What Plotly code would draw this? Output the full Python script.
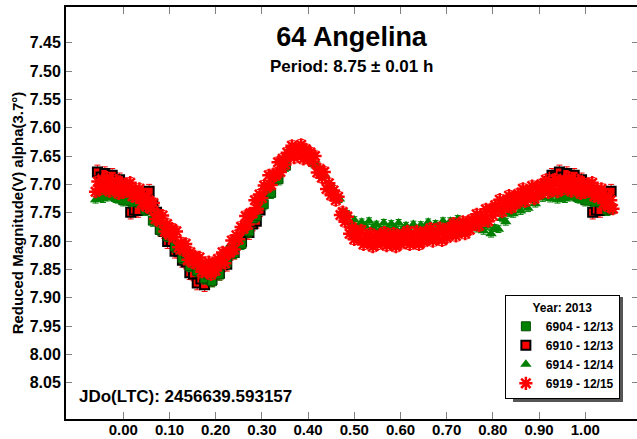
import plotly.graph_objects as go

# ---------------- data (phase, reduced magnitude) ----------------
ph_6919 = [0.000, 0.005, 0.010, 0.015, 0.020, 0.025, 0.030, 0.035, 0.040, 0.045,
           0.050, 0.055, 0.060, 0.065, 0.070, 0.075, 0.080, 0.085, 0.090, 0.095,
           0.100, 0.105, 0.110, 0.115, 0.120, 0.125, 0.130, 0.135, 0.140, 0.145,
           0.150, 0.155, 0.160, 0.165, 0.170, 0.175, 0.180, 0.185, 0.190, 0.195,
           0.200, 0.205, 0.210, 0.215, 0.220, 0.225, 0.230, 0.235, 0.240, 0.245,
           0.250, 0.255, 0.260, 0.265, 0.270, 0.275, 0.280, 0.285, 0.290, 0.295,
           0.300, 0.305, 0.310, 0.315, 0.320, 0.325, 0.330, 0.335, 0.340, 0.345,
           0.350, 0.355, 0.360, 0.365, 0.370, 0.375, 0.380, 0.385, 0.390, 0.395,
           0.400, 0.405, 0.410, 0.415, 0.420, 0.425, 0.430, 0.435, 0.440, 0.445,
           0.450, 0.455, 0.460, 0.465, 0.470, 0.475, 0.480, 0.485, 0.490, 0.495,
           0.500, 0.505, 0.510, 0.515, 0.520, 0.525, 0.530, 0.535, 0.540, 0.545,
           0.550, 0.555, 0.560, 0.565, 0.570, 0.575, 0.580, 0.585, 0.590, 0.595,
           0.600, 0.605, 0.610, 0.615, 0.620, 0.625, 0.630, 0.635, 0.640, 0.645,
           0.650, 0.655, 0.660, 0.665, 0.670, 0.675, 0.680, 0.685, 0.690, 0.695,
           0.700, 0.705, 0.710, 0.715, 0.720, 0.725, 0.730, 0.735, 0.740, 0.745,
           0.750, 0.755, 0.760, 0.765, 0.770, 0.775, 0.780, 0.785, 0.790, 0.795,
           0.800, 0.805, 0.810, 0.815, 0.820, 0.825, 0.830, 0.835, 0.840, 0.845,
           0.850, 0.855, 0.860, 0.865, 0.870, 0.875, 0.880, 0.885, 0.890, 0.895,
           0.900, 0.905, 0.910, 0.915, 0.920, 0.925, 0.930, 0.935, 0.940, 0.945,
           0.950, 0.955, 0.960, 0.965, 0.970, 0.975, 0.980, 0.985, 0.990, 0.995]
mag_6919 = [7.714, 7.699, 7.711, 7.697, 7.721, 7.711, 7.721, 7.708, 7.733, 7.720,
            7.739, 7.728, 7.743, 7.733, 7.761, 7.753, 7.766, 7.755, 7.783, 7.770,
            7.789, 7.778, 7.793, 7.783, 7.811, 7.803, 7.816, 7.805, 7.833, 7.820,
            7.838, 7.827, 7.841, 7.829, 7.854, 7.844, 7.854, 7.837, 7.859, 7.839,
            7.852, 7.832, 7.839, 7.820, 7.839, 7.820, 7.821, 7.799, 7.815, 7.790,
            7.797, 7.775, 7.778, 7.756, 7.771, 7.751, 7.751, 7.728, 7.743, 7.718,
            7.724, 7.702, 7.706, 7.684, 7.701, 7.682, 7.684, 7.661, 7.678, 7.655,
            7.665, 7.644, 7.649, 7.632, 7.653, 7.638, 7.644, 7.630, 7.655, 7.638,
            7.654, 7.644, 7.660, 7.650, 7.679, 7.673, 7.688, 7.678, 7.708, 7.698,
            7.719, 7.711, 7.728, 7.722, 7.754, 7.749, 7.766, 7.757, 7.787, 7.776,
            7.797, 7.783, 7.795, 7.781, 7.806, 7.794, 7.802, 7.787, 7.810, 7.792,
            7.806, 7.790, 7.800, 7.785, 7.808, 7.795, 7.803, 7.787, 7.810, 7.791,
            7.805, 7.789, 7.798, 7.783, 7.806, 7.792, 7.800, 7.783, 7.806, 7.787,
            7.801, 7.784, 7.794, 7.778, 7.800, 7.787, 7.794, 7.777, 7.799, 7.781,
            7.794, 7.777, 7.786, 7.769, 7.791, 7.777, 7.783, 7.766, 7.787, 7.767,
            7.780, 7.762, 7.770, 7.753, 7.773, 7.758, 7.763, 7.744, 7.765, 7.744,
            7.755, 7.737, 7.745, 7.727, 7.748, 7.733, 7.739, 7.720, 7.741, 7.722,
            7.734, 7.717, 7.725, 7.708, 7.730, 7.715, 7.721, 7.703, 7.725, 7.705,
            7.717, 7.700, 7.709, 7.692, 7.714, 7.700, 7.708, 7.691, 7.713, 7.695,
            7.709, 7.693, 7.703, 7.688, 7.712, 7.699, 7.708, 7.693, 7.716, 7.699]

ph_6914 = [0.380, 0.388, 0.396, 0.404, 0.412, 0.420, 0.428, 0.436, 0.444, 0.452,
           0.460, 0.468, 0.476, 0.484, 0.492, 0.500, 0.508, 0.516, 0.524, 0.532,
           0.540, 0.548, 0.556, 0.564, 0.572, 0.580, 0.588, 0.596, 0.604, 0.612,
           0.620, 0.628, 0.636, 0.644, 0.652, 0.660, 0.668, 0.676, 0.684, 0.692,
           0.700, 0.708, 0.716, 0.724, 0.732, 0.740, 0.748, 0.756, 0.764, 0.772,
           0.780, 0.788, 0.796, 0.804, 0.812, 0.820, 0.828, 0.836, 0.844, 0.852,
           0.860, 0.868, 0.876, 0.884, 0.892, 0.900, 0.908, 0.916, 0.924, 0.932,
           0.940, 0.948, 0.956, 0.964, 0.972, 0.980, 0.988, 0.996, 0.004, 0.012,
           0.020, 0.028, 0.036]
mag_6914 = [7.646, 7.639, 7.648, 7.645, 7.665, 7.666, 7.685, 7.683, 7.705, 7.706,
            7.724, 7.726, 7.749, 7.752, 7.768, 7.763, 7.776, 7.767, 7.774, 7.765,
            7.777, 7.771, 7.780, 7.768, 7.780, 7.770, 7.776, 7.768, 7.780, 7.773,
            7.782, 7.771, 7.782, 7.772, 7.777, 7.767, 7.778, 7.770, 7.778, 7.765,
            7.776, 7.765, 7.770, 7.761, 7.773, 7.767, 7.776, 7.765, 7.778, 7.772,
            7.782, 7.774, 7.787, 7.777, 7.779, 7.760, 7.766, 7.751, 7.752, 7.739,
            7.747, 7.736, 7.742, 7.726, 7.734, 7.720, 7.724, 7.714, 7.725, 7.718,
            7.727, 7.715, 7.726, 7.717, 7.723, 7.714, 7.727, 7.720, 7.730, 7.719,
            7.731, 7.722, 7.729]

ph_6904 = [0.952, 0.960, 0.968, 0.976, 0.984, 0.992, 0.000, 0.008, 0.016, 0.024,
           0.032, 0.040, 0.048, 0.056, 0.064, 0.072, 0.080, 0.088, 0.096, 0.104,
           0.112, 0.120, 0.128, 0.136, 0.144, 0.152, 0.160, 0.168, 0.176, 0.184,
           0.192, 0.200, 0.208, 0.216, 0.224, 0.232, 0.240, 0.248, 0.256, 0.264,
           0.272, 0.280, 0.288, 0.296, 0.304, 0.312, 0.320, 0.328, 0.336, 0.344,
           0.352, 0.360]
mag_6904 = [7.720, 7.708, 7.717, 7.706, 7.722, 7.714, 7.728, 7.714, 7.729, 7.719,
            7.731, 7.723, 7.745, 7.743, 7.764, 7.757, 7.780, 7.775, 7.791, 7.787,
            7.810, 7.809, 7.830, 7.822, 7.844, 7.838, 7.853, 7.846, 7.866, 7.859,
            7.871, 7.852, 7.859, 7.839, 7.838, 7.816, 7.821, 7.802, 7.805, 7.779,
            7.783, 7.760, 7.756, 7.732, 7.735, 7.714, 7.715, 7.688, 7.691, 7.668,
            7.667, 7.646]

ph_6910 = [0.920, 0.928, 0.936, 0.944, 0.952, 0.960, 0.968, 0.976, 0.984, 0.992,
           0.000, 0.008, 0.016, 0.024, 0.032, 0.040, 0.048, 0.056, 0.064, 0.072,
           0.080, 0.088, 0.096, 0.104, 0.112, 0.120, 0.128, 0.136, 0.144, 0.152,
           0.160, 0.168, 0.176, 0.184, 0.192, 0.200, 0.208, 0.216, 0.224, 0.232,
           0.240, 0.248, 0.256, 0.264, 0.272, 0.280, 0.288, 0.296]
mag_6910 = [7.695, 7.684, 7.687, 7.678, 7.687, 7.681, 7.691, 7.684, 7.695, 7.692,
            7.707, 7.724, 7.749, 7.745, 7.746, 7.717, 7.721, 7.712, 7.737, 7.749,
            7.779, 7.783, 7.801, 7.801, 7.818, 7.818, 7.834, 7.837, 7.856, 7.858,
            7.874, 7.867, 7.877, 7.866, 7.868, 7.856, 7.857, 7.842, 7.841, 7.822,
            7.820, 7.803, 7.801, 7.784, 7.785, 7.770, 7.765, 7.745]

err_6904 = 0.010
err_6910 = 0.012
err_6914 = 0.006
err_6919 = 0.009

x_ticks = [0.00, 0.10, 0.20, 0.30, 0.40, 0.50, 0.60, 0.70, 0.80, 0.90, 1.00]
y_ticks = [7.45, 7.50, 7.55, 7.60, 7.65, 7.70, 7.75, 7.80, 7.85, 7.90, 7.95, 8.00, 8.05]

title_text = "64 Angelina"
period_text = "Period: 8.75 ± 0.01 h"
epoch_text = "JDo(LTC): 2456639.593157"
year_text = "Year: 2013"
ytitle = "Reduced Magnitude(V) alpha(3.7°)"


def wrap(ph, mg):
    """Phase-fold plotting: repeat points near 0/1 on the other side."""
    xs, ys = [], []
    for p, m in zip(ph, mg):
        xs.append(p); ys.append(m)
        if p >= 0.94:
            xs.append(p - 1); ys.append(m)
        if p <= 0.06:
            xs.append(p + 1); ys.append(m)
    return xs, ys


FONT = "Liberation Sans, Arial, sans-serif"
GREEN = "#008000"
RED = "#ff0000"

fig = go.Figure()

x, y = wrap(ph_6910, mag_6910)
fig.add_trace(go.Scatter(
    x=x, y=y, mode="markers", name="6910 - 12/13", legendrank=2,
    marker=dict(symbol="square", size=9, color=RED, line=dict(color="black", width=2)),
    error_y=dict(type="constant", value=err_6910, color=RED, thickness=1, width=3)))

x, y = wrap(ph_6904, mag_6904)
fig.add_trace(go.Scatter(
    x=x, y=y, mode="markers", name="6904 - 12/13", legendrank=1,
    marker=dict(symbol="square", size=9, color=GREEN, line=dict(color="#004d00", width=1)),
    error_y=dict(type="constant", value=err_6904, color=GREEN, thickness=1, width=3)))

x, y = wrap(ph_6914, mag_6914)
fig.add_trace(go.Scatter(
    x=x, y=y, mode="markers", name="6914 - 12/14", legendrank=3,
    marker=dict(symbol="triangle-up", size=10, color=GREEN, line=dict(width=0)),
    error_y=dict(type="constant", value=err_6914, color=GREEN, thickness=1, width=3)))

x, y = wrap(ph_6919, mag_6919)
fig.add_trace(go.Scatter(
    x=x, y=y, mode="markers", name="6919 - 12/15", legendrank=4,
    marker=dict(symbol="asterisk", size=11, color=RED, line=dict(color=RED, width=2.5)),
    error_y=dict(type="constant", value=err_6919, color=RED, thickness=1, width=3)))

# right-side ticks (no frame line there)
fig.add_trace(go.Scatter(x=[None], y=[None], yaxis="y2", showlegend=False, hoverinfo="skip"))

xtickfont = dict(family=FONT, size=15, color="black", weight="bold")
ytickfont = dict(family=FONT, size=16, color="black", weight="bold")

fig.update_layout(
    width=637, height=439,
    template="none",
    paper_bgcolor="white", plot_bgcolor="white",
    margin=dict(l=66, r=0, t=7, b=20, autoexpand=False),
    showlegend=True,
    title=dict(text=title_text, x=0.552, xanchor="center", y=1 - 37 / 439, yanchor="middle",
               yref="container", font=dict(family=FONT, size=27, color="black", weight="bold")),
    xaxis=dict(range=[-0.124, 1.112], tickvals=x_ticks, tickformat=".2f",
               ticks="inside", ticklen=7, tickwidth=1, tickcolor="#808080",
               showline=True, linecolor="black", linewidth=2, mirror="ticks",
               showgrid=False, zeroline=False, automargin=False, tickfont=xtickfont,
               ticklabelstandoff=-4),
    yaxis=dict(range=[8.1141, 7.3869], tickvals=y_ticks, tickformat=".2f",
               ticks="inside", ticklen=6, tickwidth=1, tickcolor="#808080",
               showline=True, linecolor="black", linewidth=2, mirror=False,
               showgrid=False, zeroline=False, automargin=False, tickfont=ytickfont,
               title=dict(text=ytitle, standoff=2,
                          font=dict(family=FONT, size=15, color="black", weight="bold"))),
    yaxis2=dict(overlaying="y", side="right", matches="y", tickvals=y_ticks,
                showticklabels=False, ticks="inside", ticklen=5, tickwidth=1,
                tickcolor="#808080", showline=False, showgrid=False, zeroline=False),
    legend=dict(x=0.97, xanchor="right", y=0.048, yanchor="bottom",
                bgcolor="white", bordercolor="black", borderwidth=1,
                font=dict(family=FONT, size=12, color="black", weight="bold"),
                title=dict(text=year_text, side="top center",
                           font=dict(family=FONT, size=12, color="black", weight="bold")),
                tracegroupgap=0, itemwidth=30),
    shapes=[
        dict(type="rect", xref="paper", yref="paper", layer="above",
             x0=(513 - 66) / 571, x1=(623 - 66) / 571,
             y0=(419 - 402) / 412, y1=(419 - 297) / 412,
             fillcolor="#555555", line=dict(width=0)),
    ],
    annotations=[
        dict(text=period_text, xref="paper", yref="paper", x=0.5, y=(419 - 66) / 412,
             xanchor="center", yanchor="middle", showarrow=False,
             font=dict(family=FONT, size=17, color="black", weight="bold")),
        dict(text=epoch_text, xref="paper", yref="paper", x=(77 - 66) / 571, y=(419 - 396) / 412,
             xanchor="left", yanchor="middle", showarrow=False,
             font=dict(family=FONT, size=17, color="black", weight="bold")),
    ],
)

fig.write_html("out.html", config={"displayModeBar": False},
               post_script="document.body.style.margin='0';")
